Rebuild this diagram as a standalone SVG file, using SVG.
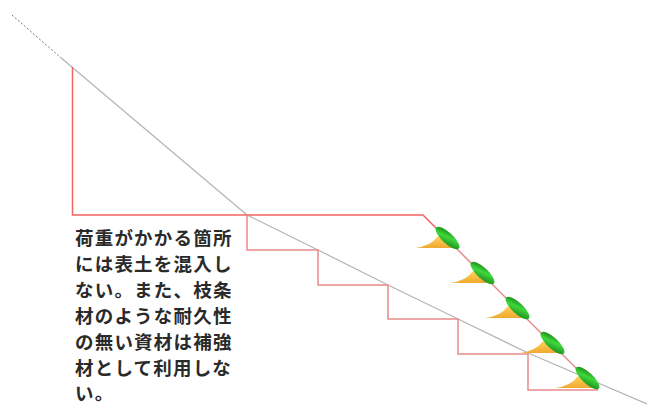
<svg xmlns="http://www.w3.org/2000/svg" width="647" height="405" viewBox="0 0 647 405">
  <style>
    .ground { fill: none; stroke: #b4b4b4; stroke-width: 1.2; }
    .ground-ext { fill: none; stroke: #6a6a6a; stroke-width: 0.9; stroke-dasharray: 2 2; }
    .cut { fill: none; stroke: #f46464; stroke-width: 1.5; stroke-linejoin: miter; }
    .step { fill: none; stroke: #e88a8a; stroke-width: 1.5; }
    .note { font-family: "Noto Sans CJK JP", "Noto Sans", sans-serif; font-size: 18.5px; font-weight: bold; fill: #2a2a2a; letter-spacing: 1.2px; }
  </style>
  <defs>
    <linearGradient id="leaf" x1="0" y1="0" x2="1" y2="1">
      <stop offset="0" stop-color="#0f6e12"/>
      <stop offset="0.45" stop-color="#3fd83a"/>
      <stop offset="1" stop-color="#147a18"/>
    </linearGradient>
    <linearGradient id="wedge" x1="0" y1="0" x2="0" y2="1">
      <stop offset="0" stop-color="#ffd45a"/>
      <stop offset="1" stop-color="#f0a830"/>
    </linearGradient>
    <!-- cutting planted on the slope face; origin at the foot of the leaf -->
    <g id="plant">
      <path d="M -43 0 Q -27 -2 -20 -12 Q -10 -4 -1 0 Z" fill="url(#wedge)"/>
      <ellipse cx="-10.5" cy="-10" rx="15.5" ry="5.5" transform="rotate(43 -10.5 -10)" fill="url(#leaf)"/>
    </g>
  </defs>

  <g id="connectors">
    <!-- original ground surface -->
    <path class="ground-ext" d="M 12 15 L 60 57"/>
    <path class="ground" d="M 60 57 L 247 215"/>
    <path class="ground" d="M 247 215 L 318 250 L 388 285 L 458 319 L 528 353 L 647 404"/>
  </g>

  <g id="excavation">
    <path class="cut" d="M 72.5 67 L 72.5 215 L 423 215 L 436 228"/>
    <path class="step" d="M 436 228 L 598 390"/>
  </g>

  <g id="steps">
    <path class="step" d="M 247 215 L 247 250 L 318 250 L 318 285 L 388 285 L 388 319 L 458 319 L 458 354 L 528 354 L 528 390 L 598 390"/>
  </g>

  <g id="plants">
    <use href="#plant" x="458" y="248"/>
    <use href="#plant" x="493" y="283"/>
    <use href="#plant" x="528" y="318"/>
    <use href="#plant" x="563" y="353"/>
    <use href="#plant" x="598" y="388"/>
  </g>

  <g id="note">
    <text class="note" x="75" y="245">荷重がかかる箇所</text>
    <text class="note" x="75" y="271">には表土を混入し</text>
    <text class="note" x="75" y="297">ない。また、枝条</text>
    <text class="note" x="75" y="323">材のような耐久性</text>
    <text class="note" x="75" y="349">の無い資材は補強</text>
    <text class="note" x="75" y="375">材として利用しな</text>
    <text class="note" x="75" y="400">い。</text>
  </g>
</svg>
